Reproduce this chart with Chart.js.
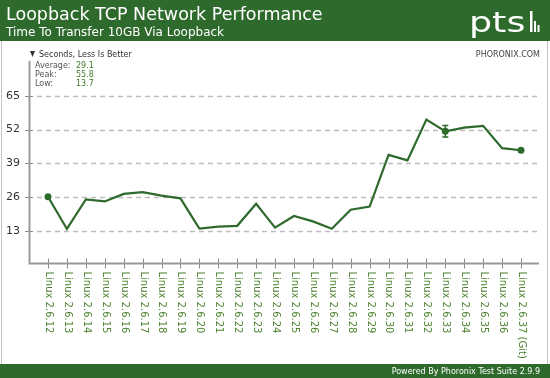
<!DOCTYPE html>
<html><head><meta charset="utf-8">
<script src="https://cdn.jsdelivr.net/npm/chart.js@4/dist/chart.umd.min.js"></script>
<style>html,body{margin:0;padding:0;background:#fff}#wrap{width:550px;height:378px;position:relative}canvas{display:block}</style>
</head><body><div id="wrap"><canvas id="c" width="550" height="378"></canvas></div>
<script>
const categories = ["Linux 2.6.12","Linux 2.6.13","Linux 2.6.14","Linux 2.6.15","Linux 2.6.16","Linux 2.6.17","Linux 2.6.18","Linux 2.6.19","Linux 2.6.20","Linux 2.6.21","Linux 2.6.22","Linux 2.6.23","Linux 2.6.24","Linux 2.6.25","Linux 2.6.26","Linux 2.6.27","Linux 2.6.28","Linux 2.6.29","Linux 2.6.30","Linux 2.6.31","Linux 2.6.32","Linux 2.6.33","Linux 2.6.34","Linux 2.6.35","Linux 2.6.36","Linux 2.6.37 (Git)"];
const seconds = [26.1,13.7,25.1,24.3,27.2,27.9,26.5,25.5,13.8,14.6,14.9,23.4,14.2,18.7,16.6,13.8,21.1,22.3,42.2,40.1,55.8,51.3,52.7,53.4,44.8,44.0];
const errorMargins = [0,0,0,0,0,0,0,0,0,0,0,0,0,0,0,0,0,0,0,0,0,2.2,0,0,0,0];
const markedPoints = ["Linux 2.6.12","Linux 2.6.33","Linux 2.6.37 (Git)"];
const yTickValues = [13,26,39,52,65];
const yMax = 78;
const statLabels = ["Average:","Peak:","Low:"];
const statValues = ["29.1","55.8","13.7"];
const titleText = "Loopback TCP Network Performance";
const subtitleText = "Time To Transfer 10GB Via Loopback";
const unitText = "Seconds, Less Is Better";

const GREEN = '#2e6a2c';
const FONT = '"DejaVu Sans", sans-serif';

const decor = {
  id: 'decor',
  beforeDraw(chart) {
    const ctx = chart.ctx;
    ctx.save();
    ctx.fillStyle = '#fff';
    ctx.fillRect(0, 0, 550, 378);
    // border
    ctx.strokeStyle = '#c4c4c4';
    ctx.lineWidth = 1;
    ctx.beginPath();
    ctx.moveTo(1.5, 0); ctx.lineTo(1.5, 378);
    ctx.moveTo(547.5, 0); ctx.lineTo(547.5, 378);
    ctx.stroke();
    // header
    ctx.fillStyle = GREEN;
    ctx.fillRect(0, 0, 550, 41);
    ctx.fillStyle = '#fff';
    ctx.textBaseline = 'alphabetic';
    ctx.textAlign = 'left';
    ctx.font = '17.5px ' + FONT;
    ctx.fillText(titleText, 6, 19.5);
    ctx.font = '12px ' + FONT;
    ctx.fillText(subtitleText, 6, 36);
    // logo
    ctx.save();
    ctx.translate(469, 32);
    ctx.scale(1.3, 1);
    ctx.font = '28px ' + FONT;
    ctx.fillText('pts', 0, 0);
    ctx.restore();
    ctx.fillRect(530, 11, 2.5, 21);
    ctx.fillRect(534, 21, 2, 11);
    ctx.fillRect(537.5, 25, 2, 7);
    // footer
    ctx.fillStyle = GREEN;
    ctx.fillRect(0, 364, 550, 14);
    ctx.fillStyle = '#fff';
    ctx.textAlign = 'right';
    ctx.font = '8px ' + FONT;
    ctx.fillText('Powered By Phoronix Test Suite 2.9.9', 540, 374);
    // unit line
    ctx.fillStyle = '#333';
    ctx.textAlign = 'left';
    ctx.textBaseline = 'middle';
    ctx.font = '8px ' + FONT;
    ctx.beginPath();
    ctx.moveTo(30, 51); ctx.lineTo(35, 51); ctx.lineTo(32.5, 57); ctx.closePath();
    ctx.fill();
    ctx.fillText(unitText, 39, 54.5);
    ctx.fillStyle = '#444';
    ctx.textAlign = 'right';
    ctx.fillText('PHORONIX.COM', 540, 54.5);
    // stats
    ctx.textAlign = 'left';
    statLabels.forEach((l, i) => {
      ctx.fillStyle = '#555';
      ctx.fillText(l, 35, 65.5 + i * 9);
      ctx.fillStyle = '#3f7a2a';
      ctx.fillText(statValues[i], 76, 65.5 + i * 9);
    });
    ctx.restore();
  },
  beforeDatasetsDraw(chart) {
    const ctx = chart.ctx;
    const y = chart.scales.y, x = chart.scales.x;
    const bottom = y.getPixelForValue(0) - 1;
    ctx.save();
    // grid lines
    ctx.strokeStyle = '#bdbdbd';
    ctx.lineWidth = 1.5;
    ctx.setLineDash([5, 4]);
    yTickValues.forEach(v => {
      const py = Math.round(y.getPixelForValue(v)) + 0.5;
      ctx.beginPath(); ctx.moveTo(37, py); ctx.lineTo(537, py); ctx.stroke();
    });
    ctx.setLineDash([]);
    // y tick marks
    ctx.strokeStyle = '#888';
    ctx.lineWidth = 1;
    yTickValues.forEach(v => {
      const py = Math.round(y.getPixelForValue(v)) + 0.5;
      ctx.beginPath(); ctx.moveTo(25, py); ctx.lineTo(33, py); ctx.stroke();
    });
    // x tick marks
    categories.forEach((c, i) => {
      const px = Math.round(x.getPixelForValue(i)) + 0.5;
      ctx.beginPath(); ctx.moveTo(px, bottom - 5); ctx.lineTo(px, bottom + 5); ctx.stroke();
    });
    // axes
    ctx.strokeStyle = '#999';
    ctx.lineWidth = 2;
    ctx.beginPath();
    ctx.moveTo(29.5, 61); ctx.lineTo(29.5, bottom);
    ctx.lineTo(539, bottom);
    ctx.stroke();
    // x labels
    ctx.fillStyle = '#4d8330';
    ctx.font = '10px ' + FONT;
    ctx.textAlign = 'left';
    ctx.textBaseline = 'middle';
    categories.forEach((c, i) => {
      const px = x.getPixelForValue(i);
      ctx.save();
      ctx.translate(px + 0.5, bottom + 8);
      ctx.rotate(Math.PI / 2);
      ctx.fillText(c, 0, 0);
      ctx.restore();
    });
    ctx.restore();
  },
  afterDatasetsDraw(chart) {
    const ctx = chart.ctx;
    const y = chart.scales.y, x = chart.scales.x;
    ctx.save();
    ctx.strokeStyle = GREEN;
    ctx.lineWidth = 1.5;
    errorMargins.forEach((e, i) => {
      if (!e) return;
      const px = x.getPixelForValue(i);
      const t = y.getPixelForValue(seconds[i] + e), b = y.getPixelForValue(seconds[i] - e);
      ctx.beginPath();
      ctx.moveTo(px, t); ctx.lineTo(px, b);
      ctx.moveTo(px - 3, t); ctx.lineTo(px + 3, t);
      ctx.moveTo(px - 3, b); ctx.lineTo(px + 3, b);
      ctx.stroke();
    });
    ctx.restore();
  }
};

new Chart(document.getElementById('c'), {
  type: 'line',
  data: {
    labels: categories,
    datasets: [{
      data: seconds,
      borderColor: GREEN,
      backgroundColor: GREEN,
      borderWidth: 2.2,
      tension: 0,
      pointRadius: categories.map(c => markedPoints.includes(c) ? 3.5 : 0),
      pointBorderWidth: 0,
      pointBackgroundColor: GREEN,
      clip: false
    }]
  },
  options: {
    responsive: false,
    animation: false,
    devicePixelRatio: 1,
    layout: { padding: { top: 62, right: 29, left: 0, bottom: 0 } },
    plugins: { legend: { display: false }, tooltip: { enabled: false } },
    scales: {
      x: {
        offset: false,
        grid: { display: false, drawTicks: false },
        border: { display: false },
        ticks: { display: false },
        afterFit(s) { s.height = 113.5; }
      },
      y: {
        min: 0, max: yMax,
        afterBuildTicks(s) { s.ticks = yTickValues.map(v => ({ value: v })); },
        grid: { display: false, drawTicks: false },
        border: { display: false },
        ticks: { padding: 28, color: '#333', font: { size: 11, family: FONT } },
        afterFit(s) { s.width = 48; }
      }
    }
  },
  plugins: [decor]
});
</script>
</body></html>
